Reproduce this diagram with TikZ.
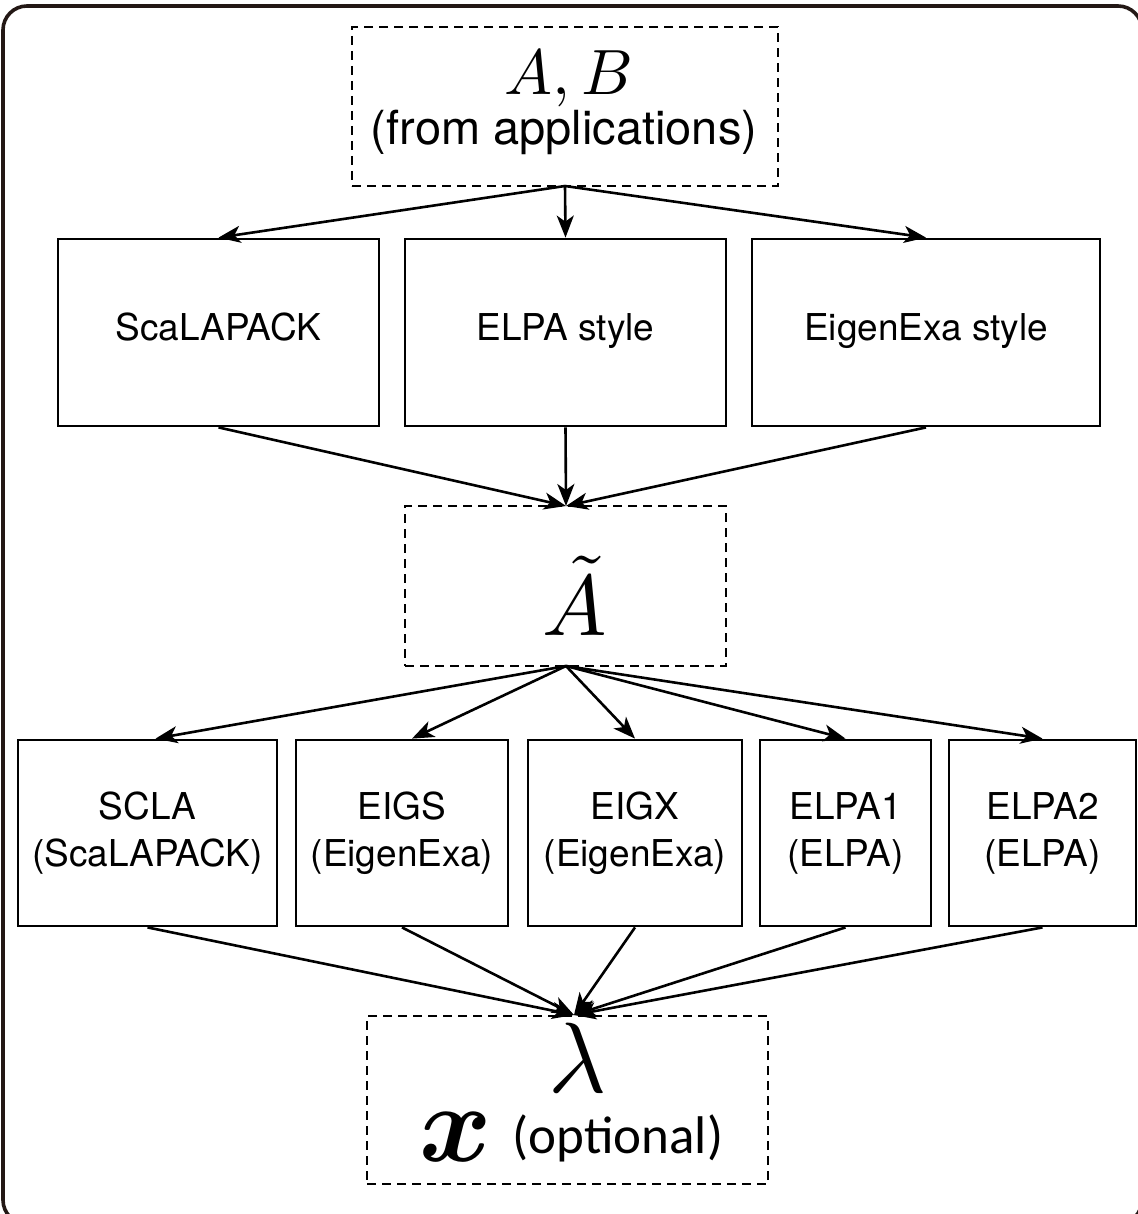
\documentclass[tikz,border=0pt]{standalone}
\usepackage{amsmath}
\usepackage{graphicx}
\usepackage{fontspec}
\setmainfont{TeX Gyre Heros}
\newfontfamily\carlito{Carlito}
\usetikzlibrary{arrows.meta}
\definecolor{framecol}{RGB}{35,24,21}
\tikzset{
  solidbox/.style={draw=black, line width=2.8pt, inner sep=0pt, align=center,
    font=\fontsize{37}{47}\selectfont},
  onebox/.style={solidbox, text height=27pt, text depth=12pt},
  dashbox/.style={draw=black, line width=2.8pt, dash pattern=on 9pt off 6pt, inner sep=0pt},
  arr/.style={draw=black, line width=2.6pt, -{Stealth[length=22pt,width=17pt,inset=6pt]}},
  lbl/.style={inner sep=0pt, anchor=center}
}
\begin{document}
\begin{tikzpicture}[x=1pt,y=-1pt]
\useasboundingbox (0,0) rectangle (1137,1214);
\fill[white] (0,0) rectangle (1137,1214);
% outer frame
\draw[framecol, line width=3.6pt, rounded corners=24pt] (3,6) rectangle (1142,1224);

% top box
\node[dashbox, minimum width=426pt, minimum height=159pt] (top) at (565,106.5) {};
\node[lbl] (ab) at (569,79) {\scalebox{6.4}{$A,B$}};
\node[lbl] (fromapp) at (564,132) {\fontsize{47}{55}\selectfont (from applications)};

% row 1
\node[onebox, minimum width=321pt, minimum height=187pt] (sca) at (218.5,332.5) {ScaLAPACK};
\node[onebox, minimum width=321pt, minimum height=187pt] (elpa) at (565.5,332.5) {ELPA style};
\node[onebox, minimum width=348pt, minimum height=187pt] (eig) at (926,332.5) {EigenExa style};

% A tilde box
\node[dashbox, minimum width=321pt, minimum height=160pt] (at) at (565.5,586) {};
\node[lbl] (atl) at (575,596) {\scalebox{8.6}{$\tilde{A}$}};

% row 2
\node[solidbox, minimum width=259pt, minimum height=186pt] (scla) at (147.5,833) {SCLA\\(ScaLAPACK)};
\node[solidbox, minimum width=212pt, minimum height=186pt] (eigs) at (402,833) {EIGS\\(EigenExa)};
\node[solidbox, minimum width=214pt, minimum height=186pt] (eigx) at (635,833) {EIGX\\(EigenExa)};
\node[solidbox, minimum width=171pt, minimum height=186pt] (elpa1) at (845.5,833) {ELPA1\\(ELPA)};
\node[solidbox, minimum width=187pt, minimum height=186pt] (elpa2) at (1042.5,833) {ELPA2\\(ELPA)};

% bottom box
\node[dashbox, minimum width=401pt, minimum height=168pt] (bot) at (567.5,1100) {};
\node[lbl, fill=white, inner sep=1pt] (lam) at (578,1058) {\scalebox{10}{$\lambda$}};
\node[lbl] (xv) at (456,1137) {\scalebox{11}{$\boldsymbol{x}$}};
\node[lbl] (opt) at (618,1138) {\carlito\fontsize{53}{58}\selectfont (optional)};

% arrows
\coordinate (topb) at (565,186);
\coordinate (atT) at (566,506);
\coordinate (atB) at (566,666);
\coordinate (botT) at (574,1015);

\draw[arr] (topb) -- (sca.north);
\draw[arr] (topb) -- (elpa.north);
\draw[arr] (topb) -- (eig.north);

\draw[arr] (sca.south) -- (atT);
\draw[arr] (elpa.south) -- (atT);
\draw[arr] (eig.south) -- (atT);

\draw[arr] (atB) -- ([xshift=8pt]scla.north);
\draw[arr] (atB) -- ([xshift=10pt]eigs.north);
\draw[arr] (atB) -- (eigx.north);
\draw[arr] (atB) -- (elpa1.north);
\draw[arr] (atB) -- (elpa2.north);

\draw[arr] (scla.south) -- (botT);
\draw[arr] (eigs.south) -- (botT);
\draw[arr] (eigx.south) -- (botT);
\draw[arr] (elpa1.south) -- (botT);
\draw[arr] (elpa2.south) -- (botT);
\end{tikzpicture}
\end{document}
